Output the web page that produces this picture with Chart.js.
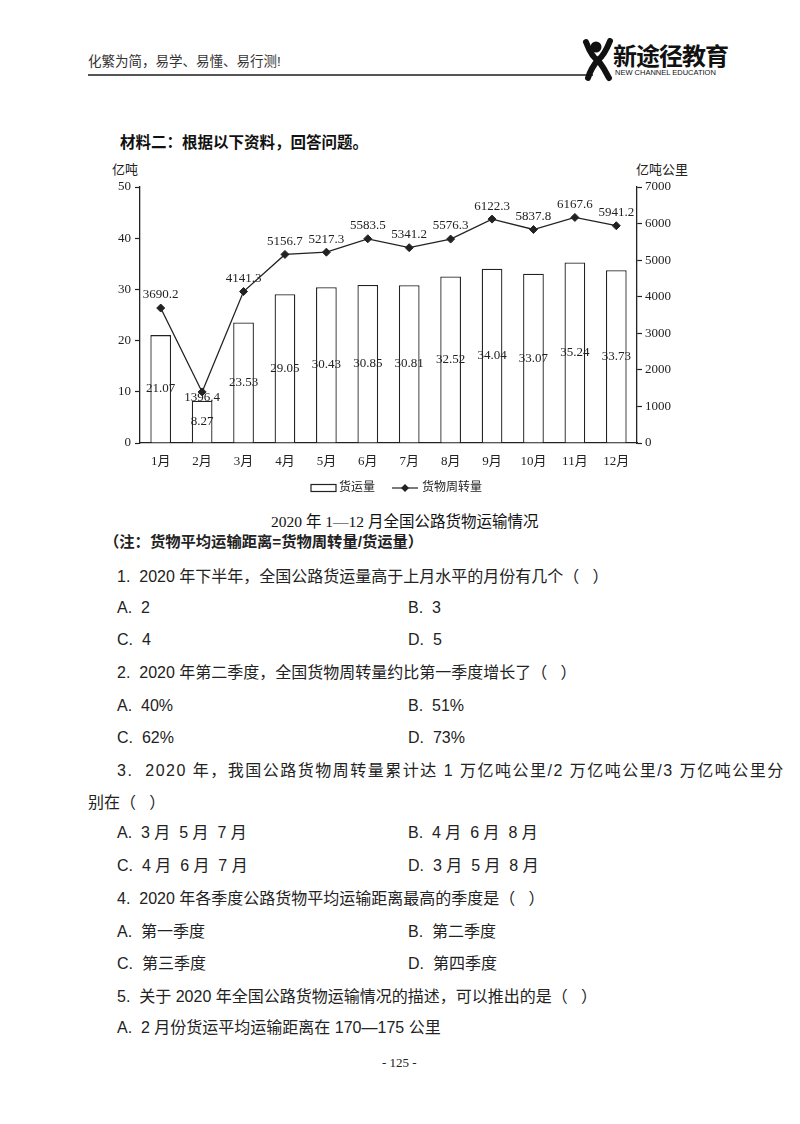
<!DOCTYPE html>
<html>
<head>
<meta charset="utf-8">
<script src="https://cdn.jsdelivr.net/npm/chart.js@4"></script>
<style>
  html, body { margin: 0; padding: 0; background: #fff; }
  #page { position: relative; width: 800px; height: 1124px; overflow: hidden; font-family: "Liberation Sans", "Noto Sans CJK SC", sans-serif; color: #222; }
  .t { position: absolute; white-space: nowrap; line-height: 20px; }
  .q { font-size: 16px; }
  .serif { font-family: "Liberation Serif", "Noto Sans CJK SC", serif; }
  #chartBox { position: absolute; left: 100px; top: 160px; width: 600px; height: 350px; }
</style>
</head>
<body>
<div id="page">
  <!-- header -->
  <div class="t" style="left:88px;top:52px;font-size:13.5px;color:#333;">化繁为简，易学、易懂、易行测!</div>
  <div style="position:absolute;left:88px;top:74px;width:505px;height:1.5px;background:#555;"></div>
  <svg style="position:absolute;left:582px;top:38px;" width="32" height="44" viewBox="0 0 32 44">
    <circle cx="14" cy="9" r="5.5" fill="#111"/>
    <path d="M4 4 Q10 20 16 22 Q22 18 28 3" stroke="#111" stroke-width="6" fill="none" stroke-linecap="round"/>
    <path d="M16 22 Q9 30 6 40 M16 22 Q22 30 27 40" stroke="#111" stroke-width="6" fill="none" stroke-linecap="round"/>
  </svg>
  <div class="t" style="left:613px;top:44px;font-size:24px;font-weight:bold;letter-spacing:-1px;color:#111;line-height:26px;">新途径教育</div>
  <div class="t" style="left:615px;top:68px;font-size:7.5px;color:#111;line-height:10px;">NEW CHANNEL EDUCATION</div>

  <div class="t" style="left:120px;top:133px;font-size:15.5px;font-weight:bold;color:#111;">材料二：根据以下资料，回答问题。</div>

  <!-- axis titles -->
  <div class="t serif" style="left:112px;top:160px;font-size:13px;">亿吨</div>
  <div class="t serif" style="left:636px;top:160px;font-size:13px;">亿吨公里</div>

  <div id="chartBox"><canvas id="c" width="600" height="350"></canvas></div>

  <div class="t serif" style="left:271px;top:512px;font-size:15.5px;color:#111;">2020 年 1—12 月全国公路货物运输情况</div>
  <div class="t" style="left:104px;top:532px;font-size:15.3px;font-weight:bold;color:#222;">（注：货物平均运输距离=货物周转量/货运量）</div>

  <!-- questions -->
  <div class="t q" style="left:117px;top:567px;">1.&nbsp; 2020 年下半年，全国公路货运量高于上月水平的月份有几个（&nbsp;&nbsp;&nbsp;）</div>
  <div class="t q" style="left:117px;top:598px;">A.&nbsp; 2</div>
  <div class="t q" style="left:408px;top:598px;">B.&nbsp; 3</div>
  <div class="t q" style="left:117px;top:630px;">C.&nbsp; 4</div>
  <div class="t q" style="left:408px;top:630px;">D.&nbsp; 5</div>
  <div class="t q" style="left:117px;top:663px;">2.&nbsp; 2020 年第二季度，全国货物周转量约比第一季度增长了（&nbsp;&nbsp;&nbsp;）</div>
  <div class="t q" style="left:117px;top:696px;">A.&nbsp; 40%</div>
  <div class="t q" style="left:408px;top:696px;">B.&nbsp; 51%</div>
  <div class="t q" style="left:117px;top:728px;">C.&nbsp; 62%</div>
  <div class="t q" style="left:408px;top:728px;">D.&nbsp; 73%</div>
  <div class="t q" style="left:117px;top:761px;letter-spacing:1.5px;">3.&nbsp; 2020 年，我国公路货物周转量累计达 1 万亿吨公里/2 万亿吨公里/3 万亿吨公里分</div>
  <div class="t q" style="left:88px;top:793px;">别在（&nbsp;&nbsp;&nbsp;）</div>
  <div class="t q" style="left:117px;top:823px;">A.&nbsp; 3 月&nbsp; 5 月&nbsp; 7 月</div>
  <div class="t q" style="left:408px;top:823px;">B.&nbsp; 4 月&nbsp; 6 月&nbsp; 8 月</div>
  <div class="t q" style="left:117px;top:856px;">C.&nbsp; 4 月&nbsp; 6 月&nbsp; 7 月</div>
  <div class="t q" style="left:408px;top:856px;">D.&nbsp; 3 月&nbsp; 5 月&nbsp; 8 月</div>
  <div class="t q" style="left:117px;top:889px;">4.&nbsp; 2020 年各季度公路货物平均运输距离最高的季度是（&nbsp;&nbsp;&nbsp;）</div>
  <div class="t q" style="left:117px;top:922px;">A.&nbsp; 第一季度</div>
  <div class="t q" style="left:408px;top:922px;">B.&nbsp; 第二季度</div>
  <div class="t q" style="left:117px;top:954px;">C.&nbsp; 第三季度</div>
  <div class="t q" style="left:408px;top:954px;">D.&nbsp; 第四季度</div>
  <div class="t q" style="left:117px;top:987px;">5.&nbsp; 关于 2020 年全国公路货物运输情况的描述，可以推出的是（&nbsp;&nbsp;&nbsp;）</div>
  <div class="t q" style="left:117px;top:1018px;">A.&nbsp; 2 月份货运平均运输距离在 170—175 公里</div>

  <div class="t serif" style="left:382px;top:1053px;font-size:13px;">- 125 -</div>
</div>

<script>
// 月份
const months = ['1月', '2月', '3月', '4月', '5月', '6月', '7月', '8月', '9月', '10月', '11月', '12月'];
// 货运量（亿吨）
const freight = [21.07, 8.27, 23.53, 29.05, 30.43, 30.85, 30.81, 32.52, 34.04, 33.07, 35.24, 33.73];
// 货物周转量（亿吨公里）
const turnover = [3690.2, 1396.4, 4141.3, 5156.7, 5217.3, 5583.5, 5341.2, 5576.3, 6122.3, 5837.8, 6167.6, 5941.2];
const leftTicks = [0, 10, 20, 30, 40, 50];
const rightTicks = [0, 1000, 2000, 3000, 4000, 5000, 6000, 7000];

const serif = '"Liberation Serif", "Noto Sans CJK SC", serif';
const ink = '#222';

// 数值标签
const valueLabels = {
  id: 'valueLabels',
  afterDatasetsDraw(chart) {
    const ctx = chart.ctx;
    ctx.save();
    ctx.font = '13px ' + serif;
    ctx.fillStyle = ink;
    ctx.textAlign = 'center';
    ctx.textBaseline = 'middle';
    chart.getDatasetMeta(0).data.forEach((bar, i) => {
      const p = bar.getProps(['x', 'y', 'base'], true);
      ctx.fillText(freight[i].toFixed(2), p.x, (p.y + p.base) / 2);
    });
    chart.getDatasetMeta(1).data.forEach((pt, i) => {
      // 2月的点太低，标签放在点下方
      const dy = i === 1 ? 6 : -13;
      ctx.fillText(turnover[i].toFixed(1), pt.x, pt.y + dy);
    });
    ctx.restore();
  }
};

// 图例
const customLegend = {
  id: 'customLegend',
  afterDraw(chart) {
    const ctx = chart.ctx;
    const y = 328;
    ctx.save();
    ctx.font = '12px ' + serif;
    ctx.fillStyle = ink;
    ctx.textBaseline = 'middle';
    ctx.strokeStyle = ink;
    ctx.lineWidth = 1.2;
    ctx.strokeRect(211, y - 3.5, 25, 7);
    ctx.fillText(chart.data.datasets[0].label, 239, y);
    ctx.beginPath();
    ctx.moveTo(292, y);
    ctx.lineTo(318, y);
    ctx.stroke();
    ctx.beginPath();
    ctx.moveTo(305, y - 4);
    ctx.lineTo(309, y);
    ctx.lineTo(305, y + 4);
    ctx.lineTo(301, y);
    ctx.closePath();
    ctx.fill();
    ctx.fillText(chart.data.datasets[1].label, 322, y);
    ctx.restore();
  }
};

new Chart(document.getElementById('c'), {
  data: {
    labels: months,
    datasets: [
      {
        type: 'bar',
        label: '货运量',
        data: freight,
        yAxisID: 'y',
        backgroundColor: '#fff',
        borderColor: ink,
        borderWidth: 1.3,
        barPercentage: 0.5,
        categoryPercentage: 1,
        order: 2
      },
      {
        type: 'line',
        label: '货物周转量',
        data: turnover,
        yAxisID: 'y1',
        borderColor: ink,
        borderWidth: 1.3,
        backgroundColor: ink,
        pointStyle: 'rectRot',
        pointRadius: 4,
        pointBorderWidth: 1,
        tension: 0,
        order: 1
      }
    ]
  },
  options: {
    responsive: false,
    devicePixelRatio: 1,
    animation: false,
    layout: { padding: { top: 27, left: 0, right: 0, bottom: 0 } },
    plugins: {
      legend: { display: false },
      tooltip: { enabled: false }
    },
    scales: {
      x: {
        grid: { display: false },
        border: { display: true, color: ink, width: 1.3 },
        ticks: { color: ink, font: { family: serif, size: 13 }, padding: 3, maxRotation: 0 },
        afterFit(scale) { scale.height = 67; }
      },
      y: {
        position: 'left',
        min: 0,
        max: 50,
        afterBuildTicks(scale) { scale.ticks = leftTicks.map(v => ({ value: v })); },
        grid: { drawOnChartArea: false, drawTicks: true, tickLength: 5, color: ink, tickWidth: 1.2 },
        border: { display: true, color: ink, width: 1.3 },
        ticks: { color: ink, font: { family: serif, size: 13 }, padding: 4 },
        afterFit(scale) { scale.width = 40; }
      },
      y1: {
        position: 'right',
        min: 0,
        max: 7000,
        afterBuildTicks(scale) { scale.ticks = rightTicks.map(v => ({ value: v })); },
        grid: { drawOnChartArea: false, drawTicks: true, tickLength: 5, color: ink, tickWidth: 1.2 },
        border: { display: true, color: ink, width: 1.3 },
        ticks: { color: ink, font: { family: serif, size: 13 }, padding: 3, callback: v => String(v) },
        afterFit(scale) { scale.width = 63; }
      }
    }
  },
  plugins: [valueLabels, customLegend]
});
</script>
</body>
</html>
